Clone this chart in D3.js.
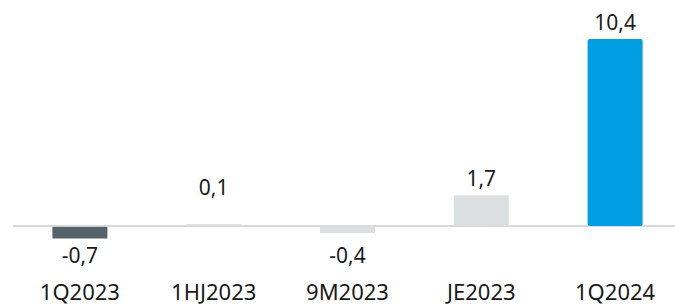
<!DOCTYPE html>
<html>
<head>
<meta charset="utf-8">
<script src="https://cdn.jsdelivr.net/npm/d3@7"></script>
<style>
  body { margin: 0; background: #fff; }
  text { font-family: "Noto Sans", sans-serif; fill: #1a1a1a; }
</style>
</head>
<body>
<div id="chart"></div>
<script>
const categories = ["1Q2023", "1HJ2023", "9M2023", "JE2023", "1Q2024"]
const values = [-0.7, 0.1, -0.4, 1.7, 10.4]
const valueLabels = ["-0,7", "0,1", "-0,4", "1,7", "10,4"]
const barColours = ["#56636b", "#dcdfe2", "#dcdfe2", "#dcdfe2", "#009fe3"]

const width = 675
const height = 305
const barWidth = 55

const svg = d3.select("#chart")
  .append("svg")
  .attr("width", width)
  .attr("height", height)

const x = d3.scalePoint()
  .domain(categories)
  .range([13, 682])
  .padding(0.5)

const y = d3.scaleLinear()
  .domain([-0.7, 10.4])
  .range([238.5, 39])

const y0 = y(0)

// zero line
svg.append("line")
  .attr("x1", 13)
  .attr("x2", width)
  .attr("y1", y0)
  .attr("y2", y0)
  .attr("stroke", "#d9d9d9")
  .attr("stroke-width", 2)

// bars
svg.selectAll("rect.bar")
  .data(values)
  .enter()
  .append("rect")
  .attr("class", "bar")
  .attr("x", (d, i) => x(categories[i]) - barWidth / 2)
  .attr("y", d => d >= 0 ? y(d) : y0 + 1)
  .attr("width", barWidth)
  .attr("height", d => d >= 0 ? Math.max(y0 - y(d), 1) : y(d) - y0 - 1)
  .attr("rx", (d, i) => i === 4 ? 2 : 0)
  .attr("fill", (d, i) => barColours[i])

// value labels
svg.selectAll("text.value")
  .data(values)
  .enter()
  .append("text")
  .attr("class", "value")
  .attr("x", (d, i) => x(categories[i]))
  .attr("y", d => d >= 0 ? Math.min(y(d) - 9, y0 - 31) : Math.max(y(d) + 24, y0 + 37))
  .attr("text-anchor", "middle")
  .style("font-size", "21px")
  .text((d, i) => valueLabels[i])

// category labels
svg.selectAll("text.cat")
  .data(categories)
  .enter()
  .append("text")
  .attr("class", "cat")
  .attr("x", d => x(d))
  .attr("y", 300)
  .attr("text-anchor", "middle")
  .style("font-size", "22px")
  .text(d => d)
</script>
</body>
</html>
